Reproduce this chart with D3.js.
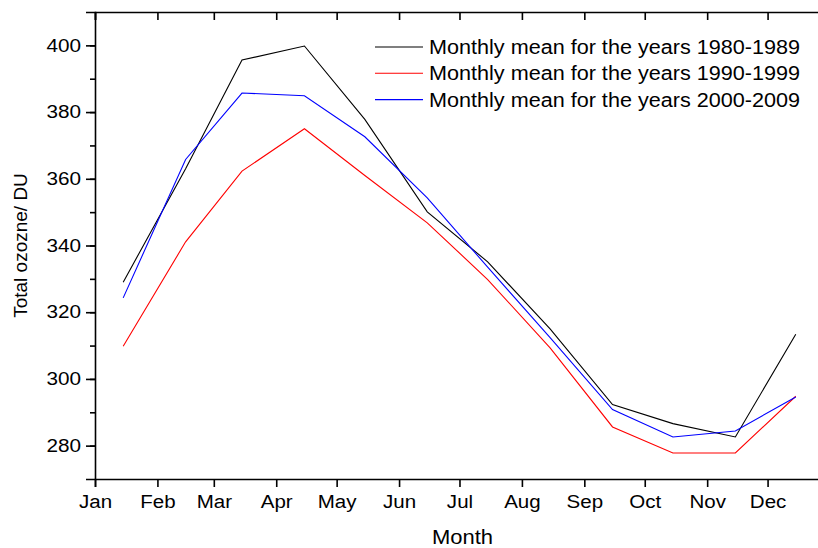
<!DOCTYPE html>
<html>
<head>
<meta charset="utf-8">
<script src="https://cdn.jsdelivr.net/npm/d3@7.9.0/dist/d3.min.js"></script>
<style>
  body { margin: 0; background: #fff; }
  svg { display: block; font-family: "Liberation Sans", Arial, sans-serif; }
  .axis path, .axis line { stroke: #000; stroke-width: 1.6; }
  .axis text { font-size: 18px; fill: #000; }
</style>
</head>
<body>
<svg id="chart" width="818" height="548"></svg>
<script>
// month index 0..11, values read at mid-month
const months = ["Jan", "Feb", "Mar", "Apr", "May", "Jun", "Jul", "Aug", "Sep", "Oct", "Nov", "Dec"];
const dec1980s = [329, 363, 395.6, 399.8, 377.8, 350.1, 335.1, 315, 292.3, 286.6, 282.6, 313.4];
const dec1990s = [309.8, 341.1, 362.3, 375.0, 361, 346.8, 329.8, 309.3, 285.6, 277.8, 277.8, 294.8];
const dec2000s = [324.3, 365.8, 385.7, 384.9, 372.6, 354.3, 333.5, 312.4, 290.8, 282.6, 284.4, 294.6];
const seriesNames = [
  "Monthly mean for the years 1980-1989",
  "Monthly mean for the years 1990-1999",
  "Monthly mean for the years 2000-2009"
];
const seriesColors = ["#000000", "#ff0000", "#0000ff"];
const yTicks = [280, 300, 320, 340, 360, 380, 400];

const svg = d3.select("#chart");
const margin = { left: 95, top: 12, bottom: 479 };

// the original text is a bit wider than the font, so widen glyphs a little
function widen(sel, k) {
  sel.each(function () {
    const len = this.getComputedTextLength();
    d3.select(this).attr("textLength", len * k).attr("lengthAdjust", "spacingAndGlyphs");
  });
}

const x = d3.scaleTime()
  .domain([new Date(2001, 0, 1), new Date(2002, 0, 1)])
  .range([margin.left, 830]);
const y = d3.scaleLinear().domain([270, 410]).range([margin.bottom, margin.top]);

const monthStarts = months.map((m, i) => new Date(2001, i, 1));
const midMonth = i => new Date(2001, i, 15);

// left axis, major + minor ticks
svg.append("g")
  .attr("class", "axis")
  .attr("transform", `translate(${margin.left},0)`)
  .call(d3.axisLeft(y).tickValues(d3.range(280, 410, 10)).tickSize(5).tickFormat(""))
  .call(g => g.select(".domain").remove());

svg.append("g")
  .attr("class", "axis")
  .attr("transform", `translate(${margin.left},0)`)
  .call(d3.axisLeft(y).tickValues(yTicks).tickSize(9).tickPadding(5).tickFormat(d3.format("d")))
  .call(g => widen(g.selectAll("text"), 1.15));

// bottom axis
svg.append("g")
  .attr("class", "axis")
  .attr("transform", `translate(0,${margin.bottom})`)
  .call(d3.axisBottom(x).tickValues(monthStarts).tickSize(8).tickPadding(8)
    .tickFormat((d, i) => months[i]))
  .call(g => widen(g.selectAll("text"), 1.14));

// top axis, ticks pointing into the plot
svg.append("g")
  .attr("class", "axis")
  .attr("transform", `translate(0,${margin.top})`)
  .call(d3.axisBottom(x).tickValues(monthStarts).tickSize(8).tickFormat(""));

// lines
const line = d3.line()
  .x((d, i) => x(midMonth(i)))
  .y(d => y(d));

[dec1980s, dec1990s, dec2000s].forEach((vals, k) => {
  svg.append("path")
    .datum(vals)
    .attr("fill", "none")
    .attr("stroke", seriesColors[k])
    .attr("stroke-width", 1.1)
    .attr("d", line);
});

// legend
const legend = svg.append("g").attr("transform", "translate(375,47)");
seriesNames.forEach((name, k) => {
  const row = legend.append("g").attr("transform", `translate(0,${k * 26.3})`);
  row.append("line")
    .attr("x1", 0).attr("x2", 48)
    .attr("stroke", seriesColors[k]).attr("stroke-width", 1.1);
  row.append("text")
    .attr("x", 54).attr("dy", "0.35em")
    .attr("font-size", 20)
    .text(name)
    .call(t => widen(t, 1.08));
});

// axis titles
svg.append("text")
  .attr("transform", `translate(27,${(margin.top + margin.bottom) / 2}) rotate(-90)`)
  .attr("text-anchor", "middle")
  .attr("font-size", 19)
  .text("Total ozozne/ DU");

svg.append("text")
  .attr("x", (margin.left + 830) / 2)
  .attr("y", 544)
  .attr("text-anchor", "middle")
  .attr("font-size", 20)
  .text("Month")
  .call(t => widen(t, 1.1));
</script>
</body>
</html>
